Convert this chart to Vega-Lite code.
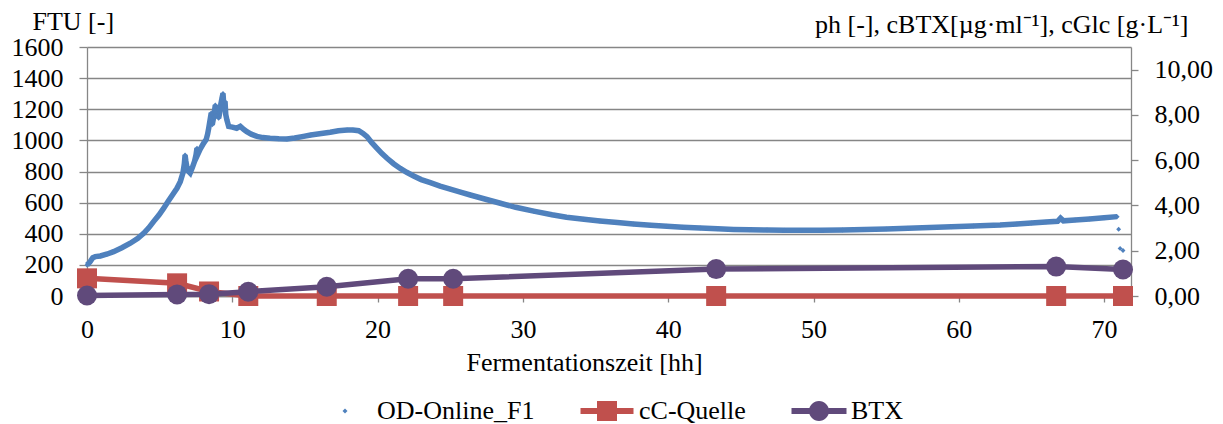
{
  "$schema": "https://vega.github.io/schema/vega-lite/v6.json",
  "width": 1044,
  "height": 249,
  "autosize": {"type": "none"},
  "padding": {"left": 87, "top": 47, "right": 92, "bottom": 128},
  "background": "white",
  "config": {
    "view": {"stroke": null},
    "font": "Liberation Serif",
    "style": {"guide-label": {"font": "Liberation Serif"}, "guide-title": {"font": "Liberation Serif"}},
    "axis": {
      "labelFont": "Liberation Serif", "titleFont": "Liberation Serif",
      "labelFontSize": 26, "titleFontSize": 26,
      "labelColor": "#000000", "titleColor": "#000000", "titleFontWeight": "normal",
      "domainColor": "#868686", "tickColor": "#868686", "gridColor": "#868686",
      "domainWidth": 1.3, "tickWidth": 1.3, "gridWidth": 1.3,
      "labelFlush": false, "labelOverlap": false
    },
    "legend": {"labelFont": "Liberation Serif", "labelFontSize": 26}
  },
  "datasets": {
    "od": [
      {"t":0,"v":199,"k":"m"},{"t":0.2,"v":218,"k":"m"},{"t":0.4,"v":246,"k":"m"},{"t":0.57,"v":253,"k":"m"},
      {"t":0.92,"v":257,"k":"m"},{"t":1.4,"v":270,"k":"m"},{"t":1.83,"v":285,"k":"m"},{"t":2.4,"v":310,"k":"m"},
      {"t":2.98,"v":339,"k":"m"},{"t":3.5,"v":370,"k":"m"},{"t":3.9,"v":403,"k":"m"},{"t":4.25,"v":438,"k":"m"},
      {"t":4.58,"v":478,"k":"m"},{"t":4.95,"v":520,"k":"m"},{"t":5.27,"v":563,"k":"m"},{"t":5.6,"v":610,"k":"m"},
      {"t":5.96,"v":660,"k":"m"},{"t":6.19,"v":692,"k":"m"},{"t":6.42,"v":735,"k":"m"},{"t":6.6,"v":790,"k":"m"},
      {"t":6.7,"v":850,"k":"m"},{"t":6.75,"v":906,"k":"m"},{"t":6.8,"v":870,"k":"m"},{"t":6.87,"v":830,"k":"m"},
      {"t":6.95,"v":805,"k":"m"},{"t":7.1,"v":790,"k":"m"},{"t":7.25,"v":825,"k":"m"},{"t":7.4,"v":865,"k":"m"},
      {"t":7.5,"v":905,"k":"m"},{"t":7.57,"v":950,"k":"m"},{"t":7.65,"v":915,"k":"m"},{"t":7.8,"v":945,"k":"m"},
      {"t":8.02,"v":981,"k":"m"},{"t":8.2,"v":1005,"k":"m"},{"t":8.3,"v":1040,"k":"m"},{"t":8.37,"v":1075,"k":"m"},
      {"t":8.45,"v":1120,"k":"m"},{"t":8.55,"v":1176,"k":"m"},{"t":8.62,"v":1100,"k":"m"},{"t":8.72,"v":1150,"k":"m"},
      {"t":8.83,"v":1227,"k":"m"},{"t":8.9,"v":1160,"k":"m"},{"t":9.0,"v":1200,"k":"m"},{"t":9.06,"v":1142,"k":"m"},
      {"t":9.15,"v":1185,"k":"m"},{"t":9.22,"v":1238,"k":"m"},{"t":9.3,"v":1275,"k":"m"},{"t":9.36,"v":1302,"k":"m"},
      {"t":9.42,"v":1220,"k":"m"},{"t":9.5,"v":1250,"k":"m"},{"t":9.55,"v":1165,"k":"m"},{"t":9.63,"v":1131,"k":"m"},
      {"t":9.75,"v":1090,"k":"m"},{"t":10.0,"v":1085,"k":"m"},{"t":10.3,"v":1078,"k":"m"},{"t":10.55,"v":1090,"k":"m"},
      {"t":10.8,"v":1070,"k":"m"},{"t":11.0,"v":1056,"k":"m"},{"t":11.3,"v":1040,"k":"m"},{"t":11.7,"v":1026,"k":"m"},
      {"t":12.1,"v":1018,"k":"m"},{"t":12.6,"v":1013,"k":"m"},{"t":13.2,"v":1010,"k":"m"},{"t":13.76,"v":1009,"k":"m"},
      {"t":14.3,"v":1015,"k":"m"},{"t":14.9,"v":1026,"k":"m"},{"t":15.4,"v":1035,"k":"m"},{"t":16.0,"v":1042,"k":"m"},
      {"t":16.74,"v":1052,"k":"m"},{"t":17.3,"v":1062,"k":"m"},{"t":17.9,"v":1067,"k":"m"},{"t":18.3,"v":1066,"k":"m"},
      {"t":18.7,"v":1062,"k":"m"},{"t":19.0,"v":1045,"k":"m"},{"t":19.27,"v":1024,"k":"m"},{"t":19.6,"v":985,"k":"m"},
      {"t":19.96,"v":949,"k":"m"},{"t":20.3,"v":915,"k":"m"},{"t":20.65,"v":885,"k":"m"},{"t":21.1,"v":850,"k":"m"},
      {"t":21.56,"v":820,"k":"m"},{"t":22.0,"v":795,"k":"m"},{"t":22.48,"v":771,"k":"m"},{"t":23.0,"v":748,"k":"m"},
      {"t":23.63,"v":728,"k":"m"},{"t":24.3,"v":706,"k":"m"},{"t":25.0,"v":686,"k":"m"},{"t":25.7,"v":667,"k":"m"},
      {"t":26.38,"v":649,"k":"m"},{"t":27.0,"v":633,"k":"m"},{"t":27.5,"v":620,"k":"m"},{"t":28.45,"v":596,"k":"m"},
      {"t":29.5,"v":570,"k":"m"},{"t":30.74,"v":545,"k":"m"},{"t":32.0,"v":522,"k":"m"},{"t":33.0,"v":506,"k":"m"},
      {"t":34.2,"v":493,"k":"m"},{"t":35.3,"v":482,"k":"m"},{"t":36.5,"v":472,"k":"m"},{"t":37.6,"v":463,"k":"m"},
      {"t":38.8,"v":455,"k":"m"},{"t":39.9,"v":448,"k":"m"},{"t":41.0,"v":442,"k":"m"},{"t":42.2,"v":437,"k":"m"},
      {"t":43.4,"v":432,"k":"m"},{"t":44.5,"v":428,"k":"m"},{"t":45.6,"v":426,"k":"m"},{"t":46.8,"v":424,"k":"m"},
      {"t":48.0,"v":423,"k":"m"},{"t":49.1,"v":422,"k":"m"},{"t":50.5,"v":422,"k":"m"},{"t":52.0,"v":424,"k":"m"},
      {"t":53.5,"v":427,"k":"m"},{"t":55.0,"v":431,"k":"m"},{"t":56.5,"v":435,"k":"m"},{"t":58.0,"v":440,"k":"m"},
      {"t":59.5,"v":445,"k":"m"},{"t":61.0,"v":450,"k":"m"},{"t":62.85,"v":456,"k":"m"},{"t":64.0,"v":463,"k":"m"},
      {"t":65.0,"v":469,"k":"m"},{"t":66.0,"v":475,"k":"m"},{"t":66.8,"v":480,"k":"m"},{"t":67.0,"v":500,"k":"m"},
      {"t":67.2,"v":483,"k":"m"},{"t":68.0,"v":488,"k":"m"},{"t":69.0,"v":495,"k":"m"},{"t":70.0,"v":503,"k":"m"},
      {"t":70.9,"v":510,"k":"m"},
      {"t":71.0,"v":429,"k":"o"},{"t":71.1,"v":306,"k":"o"},{"t":71.3,"v":292,"k":"o"}
    ],
    "lab": [
      {"series":"cC-Quelle","t":0,"v":0.78},{"series":"cC-Quelle","t":6.2,"v":0.56},{"series":"cC-Quelle","t":8.4,"v":0.2},
      {"series":"cC-Quelle","t":11.1,"v":0},{"series":"cC-Quelle","t":16.5,"v":0},{"series":"cC-Quelle","t":22.1,"v":0},
      {"series":"cC-Quelle","t":25.2,"v":0},{"series":"cC-Quelle","t":43.3,"v":0},{"series":"cC-Quelle","t":66.7,"v":0},
      {"series":"cC-Quelle","t":71.3,"v":0},
      {"series":"BTX","t":0,"v":0.02},{"series":"BTX","t":6.2,"v":0.07},{"series":"BTX","t":8.4,"v":0.08},
      {"series":"BTX","t":11.1,"v":0.19},{"series":"BTX","t":16.5,"v":0.41},{"series":"BTX","t":22.1,"v":0.76},
      {"series":"BTX","t":25.2,"v":0.76},{"series":"BTX","t":43.3,"v":1.19},{"series":"BTX","t":66.7,"v":1.3},
      {"series":"BTX","t":71.3,"v":1.17}
    ],
    "leg": [
      {"series":"OD-Online_F1","t":-30,"v":0},
      {"series":"cC-Quelle","t":-30,"v":0},
      {"series":"BTX","t":-30,"v":0}
    ]
  },
  "encoding": {
    "x": {
      "field": "t", "type": "quantitative",
      "scale": {"domain": [0, 71.85], "nice": false, "zero": false},
      "axis": {
        "orient": "bottom", "values": [0,10,20,30,40,50,60,70], "format": "d",
        "labelFont": "Liberation Serif", "titleFont": "Liberation Serif",
        "grid": false, "tickSize": 6, "labelPadding": 14,
        "title": "Fermentationszeit [hh]", "titleX": 497, "titleY": 74,
        "titleAlign": "center", "titleBaseline": "alphabetic"
      }
    }
  },
  "layer": [
    {
      "data": {"name": "od"},
      "encoding": {
        "y": {
          "field": "v", "type": "quantitative",
          "scale": {"domain": [0, 1600], "nice": false},
          "axis": {
            "orient": "left", "values": [0,200,400,600,800,1000,1200,1400,1600], "format": "d",
            "labelFont": "Liberation Serif", "titleFont": "Liberation Serif",
            "grid": true, "tickSize": 8, "labelPadding": 16,
            "title": "FTU [-]", "titleAngle": 0, "titleAlign": "left", "titleBaseline": "alphabetic",
            "titleX": -55, "titleY": -18
          }
        }
      },
      "layer": [
        {
          "transform": [{"filter": "datum.k === 'm'"}],
          "mark": {"type": "line", "color": "#4F81BD", "strokeWidth": 5.5},
          "encoding": {"order": {"field": "t", "type": "quantitative"}}
        },
        {
          "mark": {"type": "point", "shape": "diamond", "filled": true, "size": 24, "color": "#4F81BD", "opacity": 1},
          "encoding": {}
        }
      ]
    },
    {
      "encoding": {
        "y": {
          "field": "v", "type": "quantitative",
          "scale": {"domain": [0, 11], "nice": false},
          "axis": {
            "orient": "right", "values": [0,2,4,6,8,10],
            "labelExpr": "replace(format(datum.value, '.2f'), '.', ',')",
            "labelFont": "Liberation Serif", "titleFont": "Liberation Serif",
            "grid": false, "tickSize": 7, "labelPadding": 16,
            "title": "ph [-], cBTX[µg·ml⁻¹], cGlc [g·L⁻¹]", "titleAngle": 0, "titleAlign": "right",
            "titleBaseline": "alphabetic", "titleX": 57, "titleY": -15
          }
        }
      },
      "layer": [
        {
          "data": {"name": "lab"},
          "transform": [{"filter": "datum.series === 'cC-Quelle'"}],
          "mark": {"type": "line", "color": "#C0504D", "strokeWidth": 5.5},
          "encoding": {"order": {"field": "t", "type": "quantitative"}}
        },
        {
          "data": {"name": "lab"},
          "transform": [{"filter": "datum.series === 'cC-Quelle'"}],
          "mark": {"type": "point", "shape": "square", "filled": true, "size": 400, "color": "#C0504D", "opacity": 1},
          "encoding": {}
        },
        {
          "data": {"name": "lab"},
          "transform": [{"filter": "datum.series === 'BTX'"}],
          "mark": {"type": "line", "color": "#604A7B", "strokeWidth": 5.5},
          "encoding": {"order": {"field": "t", "type": "quantitative"}}
        },
        {
          "data": {"name": "lab"},
          "transform": [{"filter": "datum.series === 'BTX'"}],
          "mark": {"type": "point", "shape": "circle", "filled": true, "size": 400, "color": "#604A7B", "opacity": 1},
          "encoding": {}
        },
        {
          "data": {"name": "leg"},
          "mark": {"type": "point", "filled": true, "opacity": 1, "clip": true},
          "encoding": {
            "color": {
              "field": "series", "type": "nominal",
              "scale": {"domain": ["OD-Online_F1","cC-Quelle","BTX"], "range": ["#4F81BD","#C0504D","#604A7B"]},
              "legend": {
                "orient": "none", "legendX": 245, "legendY": 351, "direction": "horizontal", "columns": 3,
                "title": null, "padding": 0, "labelFont": "Liberation Serif", "labelFontSize": 26,
                "labelColor": "#000000", "labelOffset": 19, "columnPadding": 45, "symbolSize": 400,
                "symbolStrokeWidth": 0, "symbolOpacity": 1, "labelLimit": 0
              }
            },
            "shape": {
              "field": "series", "type": "nominal",
              "scale": {
                "domain": ["OD-Online_F1","cC-Quelle","BTX"],
                "range": [
                  "M0,-0.25L0.25,0L0,0.25L-0.25,0Z",
                  "M-2.65,-0.3H-1V0.3H-2.65Z M-1,-1H1V1H-1Z M1,-0.3H2.65V0.3H1Z",
                  "M-2.75,-0.3H-0.96V0.3H-2.75Z M-1,0A1,1 0 1,1 1,0A1,1 0 1,1 -1,0Z M0.96,-0.3H2.75V0.3H0.96Z"
                ]
              },
              "legend": {
                "orient": "none", "legendX": 245, "legendY": 351, "direction": "horizontal", "columns": 3,
                "title": null, "padding": 0, "labelFont": "Liberation Serif", "labelFontSize": 26,
                "labelColor": "#000000", "labelOffset": 19, "columnPadding": 45, "symbolSize": 400,
                "symbolStrokeWidth": 0, "symbolOpacity": 1, "labelLimit": 0
              }
            }
          }
        }
      ]
    }
  ],
  "resolve": {"scale": {"y": "independent"}}
}
